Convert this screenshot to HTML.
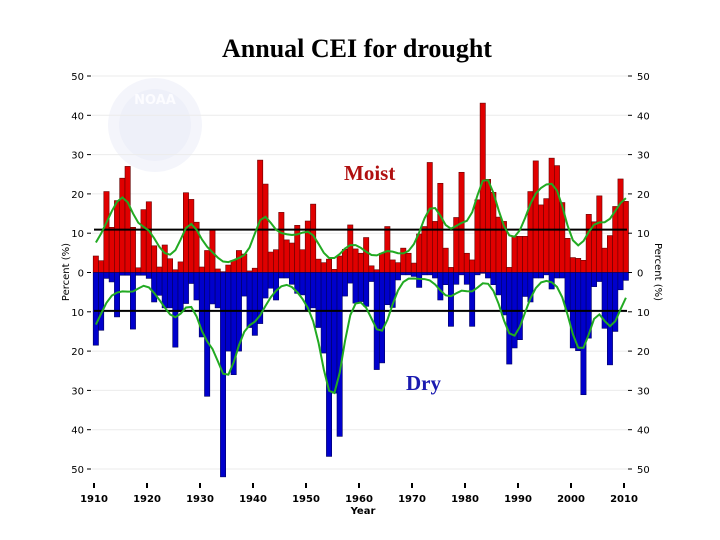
<!DOCTYPE html>
<html><head><meta charset="utf-8"><style>
body{margin:0;background:#fff;}
svg{display:block;font-family:"DejaVu Sans","Liberation Sans",sans-serif;}
</style></head><body>
<svg id="chart" width="720" height="540" viewBox="0 0 720 540" xmlns="http://www.w3.org/2000/svg">
<text x="357" y="57" text-anchor="middle" font-family="Liberation Serif, serif" font-weight="bold" font-size="26">Annual CEI for drought</text>
<g>
<circle cx="155" cy="125" r="47" fill="#f4f5fb"/>
<circle cx="155" cy="125" r="36" fill="#eef0f9"/>
<text x="155" y="104" text-anchor="middle" font-size="13" font-weight="bold" fill="#fcfcff">NOAA</text>
</g>
<g id="grid"></g>
<g id="bars"></g>
<g id="lines"></g>
<g id="axes"></g>
<text x="344" y="180" font-family="Liberation Serif, serif" font-weight="bold" font-size="21" fill="#b01010">Moist</text>
<text x="406" y="390" font-family="Liberation Serif, serif" font-weight="bold" font-size="21" fill="#1a1ab0">Dry</text>
<text transform="translate(69,272) rotate(-90)" text-anchor="middle" font-size="10">Percent (%)</text>
<text transform="translate(655,272) rotate(90)" text-anchor="middle" font-size="10">Percent (%)</text>
<text x="363" y="514" text-anchor="middle" font-size="10" font-weight="bold">Year</text>
</svg>
<script>
const startYear = 1910;
const moist = [4.2,3,20.6,11.5,18.3,24,27,11.5,1.2,16,18,6.8,1.4,7,3.5,0.7,2.7,20.3,18.6,12.8,1.4,5.6,10.8,0.9,0.2,1.9,3.1,5.6,4.7,0.4,1.1,28.6,22.5,5.2,5.8,15.3,8.3,7.5,12,5.8,13.1,17.4,3.4,2.5,3.4,0.8,4.2,5.9,12.1,6,4.9,8.9,1.7,0.7,4.9,11.7,3.2,2.5,6.2,4.9,2.4,9.8,11.7,28,13,22.7,6.2,1.3,14,25.5,4.9,3.2,18.5,43.1,23.7,20.4,14.1,13,1.3,9.2,9.2,9.2,20.6,28.4,17.2,18.8,29.1,27.2,17.8,8.7,3.8,3.6,3.1,14.8,12.9,19.5,6.2,9.4,16.8,23.8,18.1];
const dry = [18.5,14.7,1.5,2.4,11.3,0.7,0.7,14.4,0.7,0.7,1.5,7.5,5.8,9,9,19,10,7.9,2.8,7,16.4,31.5,8,9,52,20,26,20,6,14,16,13,6.5,4,7,1.4,1.4,3,5.3,5.7,9.5,9,14,20.5,46.8,30.7,41.7,6,2.7,7.8,7.4,8.6,2.3,24.7,23,8.2,8.9,1.9,0.6,0.6,1,3.8,0.6,0.6,1.4,7,3.1,13.7,3,0.6,3,13.7,0.6,0.2,1.4,3.1,5.7,10.8,23.3,19.2,17.1,6.1,7.5,1.4,1.4,0.6,4.2,1.4,1.4,9.9,19.2,19.9,31.1,16.7,3.6,2.3,14.2,23.5,15,4.4,2];
const yTicks = [50,40,30,20,10,0,10,20,30,40,50];
const xTicks = [1910,1920,1930,1940,1950,1960,1970,1980,1990,2000,2010];
const moistThreshold = 10.9;
const dryThreshold = 9.75;

const NS='http://www.w3.org/2000/svg';
const x = yr => 94 + (yr - startYear) * 5.3;
const yM = v => 272.5 - v * 3.93;
const yD = v => 272.5 + v * 3.93;
function mk(tag, attrs, parent){const e=document.createElementNS(NS,tag);for(const k in attrs)e.setAttribute(k,attrs[k]);parent.appendChild(e);return e;}
const grid=document.getElementById('grid'), bars=document.getElementById('bars'), lines=document.getElementById('lines'), axes=document.getElementById('axes');

yTicks.forEach((t,i)=>{
  const v=(5-i)*10; const yy=yM(v);
  if(i!==5){const g=mk('line',{x1:92,x2:628,y1:yy,y2:yy,stroke:'#ebebeb','stroke-width':1},grid);
  
  }
  const l=mk('text',{x:84,y:yy+4,'text-anchor':'end','font-size':10},axes); l.textContent=t;
  
  
  const r=mk('text',{x:637,y:yy+4,'font-size':10},axes); r.textContent=t;
  
  
  mk('line',{x1:87,x2:91,y1:yy,y2:yy,stroke:'#000'},axes);
  mk('line',{x1:628,x2:632,y1:yy,y2:yy,stroke:'#000'},axes);
});
xTicks.forEach(t=>{
  const xx=x(t);
  mk('line',{x1:xx,x2:xx,y1:483,y2:488,stroke:'#000','stroke-width':2},axes);
  const l=mk('text',{x:xx,y:502,'text-anchor':'middle','font-size':10,'font-weight':'bold'},axes); l.textContent=t;
  
  
});
moist.forEach((v,i)=>{
  const b=mk('rect',{x:x(startYear+i)-0.8,y:yM(v),width:5.3,height:v*3.93,fill:'#e00000',stroke:'#600','stroke-width':0.6},bars);
  
  
});
dry.forEach((v,i)=>{
  const b=mk('rect',{x:x(startYear+i)-0.8,y:272.5,width:5.3,height:v*3.93,fill:'#0000cc',stroke:'#000060','stroke-width':0.6},bars);
  
  
});
function smooth(arr,s){return arr.map((_,i)=>{let a=0,w=0;for(let j=0;j<arr.length;j++){const k=Math.exp(-((i-j)**2)/(2*s*s));a+=k*arr[j];w+=k;}return a/w;});}
const sm=smooth(moist,1.6), sd=smooth(dry,1.5);
const thM=mk('line',{x1:x(startYear),x2:x(2010)+3,y1:yM(moistThreshold),y2:yM(moistThreshold),stroke:'#000','stroke-width':2},lines);


const thD=mk('line',{x1:x(startYear),x2:x(2010)+3,y1:yD(dryThreshold),y2:yD(dryThreshold),stroke:'#000','stroke-width':2},lines);


const pm=mk('path',{d:sm.map((v,i)=>(i?'L':'M')+(x(startYear+i)+1.9)+','+yM(v)).join(''),fill:'none',stroke:'#22aa22','stroke-width':2},lines);


const pd=mk('path',{d:sd.map((v,i)=>(i?'L':'M')+(x(startYear+i)+1.9)+','+yD(v)).join(''),fill:'none',stroke:'#22aa22','stroke-width':2},lines);


</script>
</body></html>
